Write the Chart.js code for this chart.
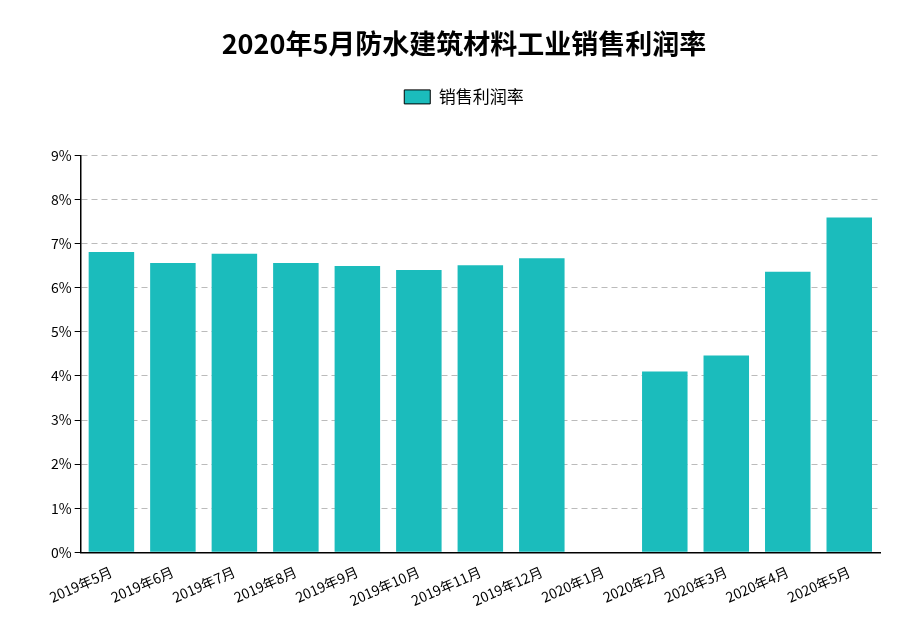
<!DOCTYPE html>
<html><head><meta charset="utf-8">
<script src="https://cdn.jsdelivr.net/npm/chart.js@4/dist/chart.umd.min.js"></script>
<style>body{margin:0;background:#fff}#w{width:922px;height:628px}</style>
</head><body><div id="w"><canvas id="c"></canvas></div>
<script>
const categories=["2019年5月","2019年6月","2019年7月","2019年8月","2019年9月","2019年10月","2019年11月","2019年12月","2020年1月","2020年2月","2020年3月","2020年4月","2020年5月"];
const values=[6.81,6.56,6.77,6.56,6.49,6.40,6.51,6.67,null,4.10,4.46,6.36,7.59];
const seriesName="销售利润率";
const titleText="2020年5月防水建筑材料工业销售利润率";
const F="'Noto Sans CJK SC','Noto Sans',sans-serif";
const legendGap={id:'legendGap',afterInit(chart){const l=chart.legend;const o=l.fit;l.fit=function(){o.call(this);this.height+=40;};}};
new Chart(document.getElementById('c'),{type:'bar',
data:{labels:categories,datasets:[{label:seriesName,data:values,backgroundColor:'#1bbcbc',borderWidth:0,barPercentage:0.74,categoryPercentage:1}]},
plugins:[legendGap],
options:{responsive:true,maintainAspectRatio:false,animation:false,
layout:{padding:{left:48,right:42,top:18,bottom:16}},
plugins:{title:{display:true,text:titleText,color:'#000',font:{family:F,size:27,weight:'bold'},padding:{top:10,bottom:18}},
legend:{labels:{color:'#000',font:{family:F,size:17},boxWidth:26,boxHeight:14,
generateLabels:c=>[{text:seriesName,fillStyle:'#1bbcbc',strokeStyle:'#000',lineWidth:1,fontColor:'#000'}]}},
tooltip:{enabled:false}},
scales:{x:{grid:{display:false},border:{color:'#000',width:1.5},
ticks:{color:'#000',font:{family:F,size:14},maxRotation:24,minRotation:24,autoSkip:false}},
y:{min:0,max:9,ticks:{stepSize:1,color:'#000',font:{family:F,size:14},callback:v=>v+'%'},
grid:{color:'#bbb',lineWidth:1,tickColor:'#000',tickLength:6},
border:{color:'#000',dash:[6,4],width:1.5}}}}});
</script></body></html>
